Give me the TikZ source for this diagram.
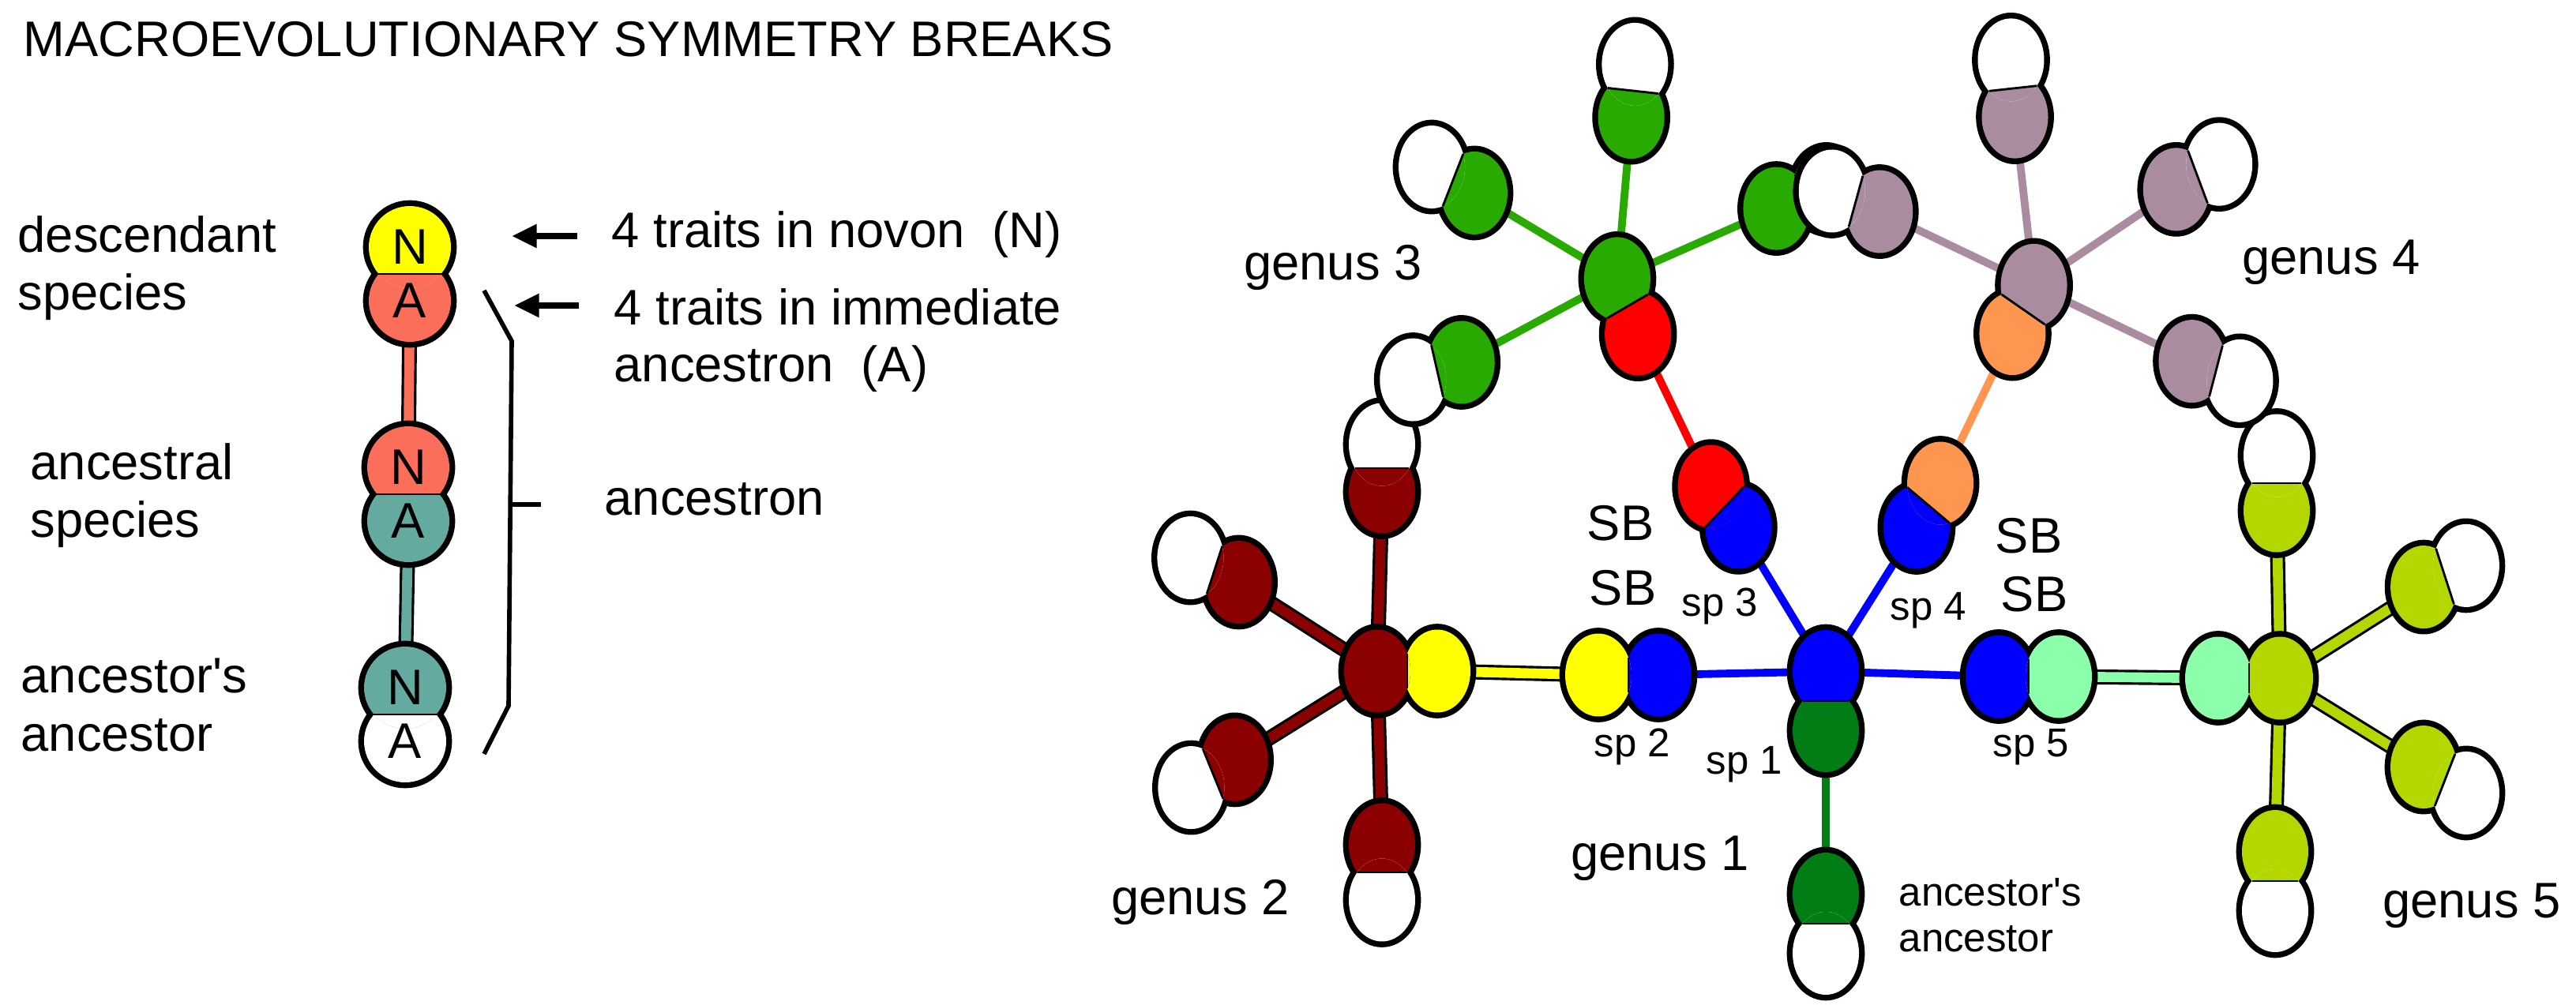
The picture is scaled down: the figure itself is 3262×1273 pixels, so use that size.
\documentclass[tikz,border=0pt]{standalone}
\usepackage{fontspec}
\setmainfont{Liberation Sans}
\usetikzlibrary{arrows.meta,backgrounds}
\definecolor{gdarkred}{RGB}{139,0,0}
\definecolor{gyellow}{RGB}{255,255,0}
\definecolor{gblue}{RGB}{0,0,255}
\definecolor{gdkgreen}{RGB}{0,125,20}
\definecolor{ggreen}{RGB}{40,170,0}
\definecolor{glightgreen}{RGB}{140,255,170}
\definecolor{golive}{RGB}{180,215,0}
\definecolor{gred}{RGB}{255,0,0}
\definecolor{gorange}{RGB}{255,150,80}
\definecolor{gmauve}{RGB}{170,140,160}
\definecolor{gsalmon}{RGB}{250,110,90}
\definecolor{gteal}{RGB}{100,170,160}

% pair of overlapping circles: name, x, y, angle, half spacing, ancestron colour, novon colour
\newcommand{\sppair}[7]{%
  \begin{scope}[shift={(#2,#3)}, yscale=1.25, rotate=#4]
    \draw[pairedge] (-#5,0) circle (42) (#5,0) circle (42);
    \fill[#6] (-#5,0) circle (42);
    \fill[#7] (#5,0) circle (42);
    \begin{scope}
      \clip (-100,-60) rectangle (0,60);
      \fill[#6] (#5,0) circle (42);
    \end{scope}
    \draw[line width=0.8pt] (0,{-sqrt(42*42-#5*#5)}) -- (0,{sqrt(42*42-#5*#5)});
    \coordinate (#1A) at (-#5,0);
    \coordinate (#1N) at (#5,0);
  \end{scope}}
% left panel pair, vertical: name, x, y, ancestron colour, novon colour
\newcommand{\legpair}[5]{%
  \begin{scope}[shift={(#2,#3)}]
    \draw[pairedge] (0,-34) circle (52) (0,34) circle (52);
    \fill[#4] (0,34) circle (52);
    \fill[#5] (0,-34) circle (52);
    \begin{scope}
      \clip (-60,0) rectangle (60,100);
      \fill[#4] (0,-34) circle (52);
    \end{scope}
    \draw[line width=0.8pt] (-40,0) -- (40,0);
    \node[txt] (#1N) at (0,-34) {N};
    \node[txt] (#1A) at (0,34) {A};
  \end{scope}}

\tikzset{
  pairedge/.style={draw=black, line width=4.2pt},
  txt/.style={font=\fontsize{18}{21}\selectfont, inner sep=0pt},
  small/.style={font=\fontsize{14.5}{17}\selectfont, inner sep=0pt},
  rim/.style={draw=black, line width=0.9pt, double=#1, double distance=3.6pt},
  stem/.style={draw=#1, line width=2.8pt},
}

\begin{document}
\begin{tikzpicture}[x=0.01cm, y=-0.01cm]
  \useasboundingbox (0,0) rectangle (3262,1273);
  \node[txt, anchor=base west] (title) at (29,72) {MACROEVOLUTIONARY SYMMETRY BREAKS};

  % legend
  \legpair{desc}{519}{347}{gsalmon}{gyellow}
  \legpair{anc}{517}{626}{gteal}{gsalmon}
  \legpair{aa}{513}{905}{white}{gteal}
  \begin{scope}[on background layer]
    \draw[rim=gsalmon] (descA) -- (ancN);
    \draw[rim=gteal] (ancA) -- (aaN);
  \end{scope}
  \node[txt, anchor=base west] (l1a) at (22,320) {descendant};
  \node[txt, anchor=base west] (l1b) at (22,393) {species};
  \node[txt, anchor=base west] (l2a) at (38,607) {ancestral};
  \node[txt, anchor=base west] (l2b) at (38,680) {species};
  \node[txt, anchor=base west] (l3a) at (26,877) {ancestor\textquotesingle s};
  \node[txt, anchor=base west] (l3b) at (26,951) {ancestor};
  \node[txt, anchor=base west] (t1) at (774,314) {4 traits in novon~~(N)};
  \node[txt, anchor=base west] (t2) at (777,411) {4 traits in immediate};
  \node[txt, anchor=base west] (t3) at (777,483) {ancestron~~(A)};
  \node[txt, anchor=base west] (t4) at (765,652) {ancestron};
  \coordinate (a1s) at (731,299);
  \coordinate (a1e) at (648,299);
  \coordinate (a2s) at (733,387);
  \coordinate (a2e) at (651,387);
  \draw[-{Triangle[length=9pt,width=8pt]}, line width=2.4pt] (a1s) -- (a1e);
  \draw[-{Triangle[length=9pt,width=8pt]}, line width=2.4pt] (a2s) -- (a2e);
  \draw[line width=1.6pt] (613,368) -- (648,432) -- (644,894) -- (613,955);
  \draw[line width=1.6pt] (644,639) -- (685,639);

  % genus 2
  \sppair{gtwo}{1782}{850}{180}{38}{gyellow}{gdarkred}
  \sppair{gtwoT}{1750}{593}{90}{24}{gdarkred}{white}
  \sppair{gtwoB}{1750}{1105}{-90}{28}{gdarkred}{white}
  \sppair{gtwoUL}{1538}{722}{158}{33}{gdarkred}{white}
  \sppair{gtwoLL}{1536}{980}{207}{31}{gdarkred}{white}
  % genus 1
  \sppair{sptwo}{2062}{855}{180}{38}{gblue}{gyellow}
  \sppair{spone}{2312}{888}{90}{30}{gdkgreen}{gblue}
  \sppair{spfive}{2569}{857}{0}{38}{gblue}{glightgreen}
  \sppair{spthree}{2184}{642}{130}{27}{gblue}{gred}
  \sppair{spfour}{2442}{640}{56}{27}{gblue}{gorange}
  \sppair{ancanc}{2312}{1170}{-90}{30}{gdkgreen}{white}
  % genus 5
  \sppair{gfive}{2848}{859}{0}{39}{glightgreen}{golive}
  \sppair{gfiveT}{2883}{612}{90}{28}{golive}{white}
  \sppair{gfiveB}{2881}{1116}{-90}{30}{golive}{white}
  \sppair{gfiveUR}{3096}{730}{22}{29}{golive}{white}
  \sppair{gfiveLR}{3096}{988}{-26}{30}{golive}{white}
  % genus 3
  \sppair{gthree}{2061}{388}{115}{31}{gred}{ggreen}
  \sppair{gthreeT}{2068}{115}{85}{27}{ggreen}{white}
  \sppair{gthreeUL}{1840}{228}{154}{30}{ggreen}{white}
  \sppair{gthreeR}{2281}{252}{17}{33}{ggreen}{white}
  \sppair{gthreeLL}{1820}{470}{196}{32}{ggreen}{white}
  % genus 4
  \sppair{gfour}{2562}{392}{61}{28}{gorange}{gmauve}
  \sppair{gfourT}{2549}{112}{95}{29}{gmauve}{white}
  \sppair{gfourUL}{2350}{255}{161}{32}{gmauve}{white}
  \sppair{gfourUR}{2783}{224}{25}{30}{gmauve}{white}
  \sppair{gfourLR}{2806}{470}{-18}{32}{gmauve}{white}

  \begin{scope}[on background layer]
    \foreach \c in {gtwoT,gtwoB,gtwoUL,gtwoLL}
      \draw[rim=gdarkred] (gtwoN) -- (\c A);
    \draw[rim=gyellow] (gtwoA) -- (sptwoN);
    \foreach \c in {sptwo,spfive,spthree,spfour}
      \draw[gblue, line width=2.8pt] (sponeN) -- (\c A);
    \draw[stem=gdkgreen] (sponeA) -- (ancancA);
    \draw[rim=glightgreen] (spfiveN) -- (gfiveA);
    \foreach \c in {gfiveT,gfiveB,gfiveUR,gfiveLR}
      \draw[rim=golive] (gfiveN) -- (\c A);
    \draw[stem=gred] (spthreeN) -- (gthreeA);
    \foreach \c in {gthreeT,gthreeUL,gthreeR,gthreeLL}
      \draw[stem=ggreen] (gthreeN) -- (\c A);
    \draw[stem=gorange] (spfourN) -- (gfourA);
    \foreach \c in {gfourT,gfourUL,gfourUR,gfourLR}
      \draw[stem=gmauve] (gfourN) -- (\c A);
  \end{scope}

  % labels
  \node[txt] (gen2) at (1520,1143) {genus 2};
  \node[txt] (gen1) at (2102,1087) {genus 1};
  \node[txt] (gen3) at (1688,339) {genus 3};
  \node[txt] (gen4) at (2952,332) {genus 4};
  \node[txt] (gen5) at (3130,1147) {genus 5};
  \node[txt] (sb1) at (2052,663) {SB};
  \node[txt] (sb2) at (2055,745) {SB};
  \node[txt] (sb3) at (2569,679) {SB};
  \node[txt] (sb4) at (2576,753) {SB};
  \node[small] (lsp3) at (2178,768) {sp 3};
  \node[small] (lsp4) at (2442,773) {sp 4};
  \node[small] (lsp2) at (2067,946) {sp 2};
  \node[small] (lsp1) at (2209,968) {sp 1};
  \node[small] (lsp5) at (2572,946) {sp 5};
  \node[small, anchor=west] (aa1) at (2404,1130) {ancestor\textquotesingle s};
  \node[small, anchor=west] (aa2) at (2404,1189) {ancestor};
\end{tikzpicture}
\end{document}
